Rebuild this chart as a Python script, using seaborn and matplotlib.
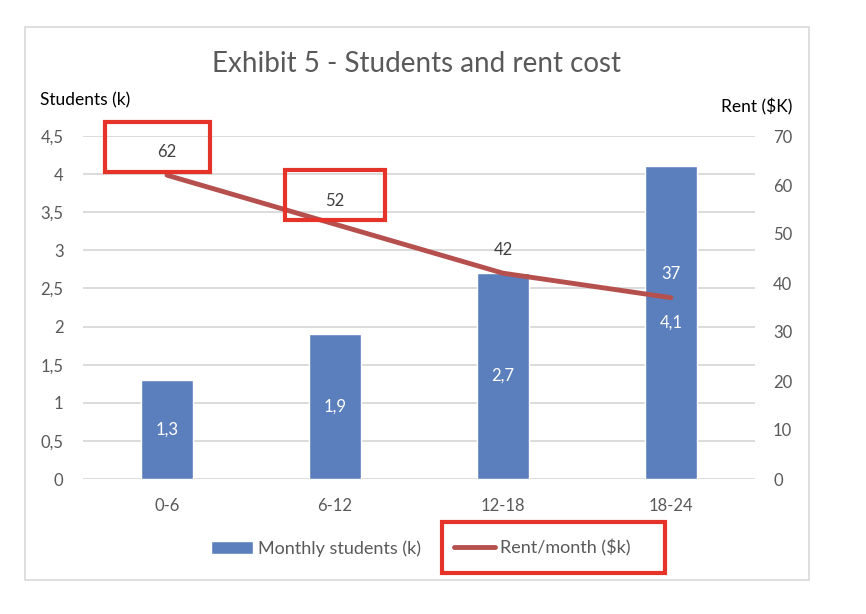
import matplotlib.pyplot as plt
import pandas as pd
import seaborn as sns
from matplotlib.patches import Rectangle
from matplotlib.ticker import FuncFormatter, MultipleLocator

# data
periods = ['0-6', '6-12', '12-18', '18-24']
students = [1.3, 1.9, 2.7, 4.1]
rent = [62, 52, 42, 37]

df = pd.DataFrame({'period': periods, 'students': students, 'rent': rent})

BAR = '#5B7FBD'
LINE = '#B5504E'
RED = '#E63329'
GRID = '#D9D9D9'
TXT = '#595959'

sns.set_theme(style='white')
plt.rcParams['font.family'] = ['Lato', 'DejaVu Sans']

W, H = 866, 614
fig = plt.figure(figsize=(W / 100, H / 100), dpi=100)


def fx(px):
    return px / W


def fy(py):
    return 1 - py / H


ax = fig.add_axes([fx(83), fy(479), fx(755 - 83), (479 - 136) / H])
sns.barplot(data=df, x='period', y='students', color=BAR, saturation=1,
            width=0.31, ax=ax)
ax2 = ax.twinx()
sns.lineplot(data=df, x='period', y='rent', color=LINE, lw=3.5, ax=ax2, legend=False)

ax.set_ylim(0, 4.5)
ax2.set_ylim(0, 70)
ax.set_xlim(-0.5, len(periods) - 0.5)
ax.yaxis.set_major_locator(MultipleLocator(0.5))
ax2.yaxis.set_major_locator(MultipleLocator(10))
ax.yaxis.set_major_formatter(FuncFormatter(lambda v, p: f'{v:g}'.replace('.', ',')))

ax.yaxis.grid(True, color=GRID, lw=1.3)
ax.set_axisbelow(True)
for a in (ax, ax2):
    for s in a.spines.values():
        s.set_visible(False)
    a.set_xlabel('')
    a.set_ylabel('')
ax.tick_params(axis='y', length=0, pad=14, labelsize=12, labelcolor=TXT)
ax.tick_params(axis='x', length=0, pad=14, labelsize=12, labelcolor=TXT)
ax2.tick_params(axis='y', length=0, pad=13, labelsize=12, labelcolor=TXT)

# data labels
ax.bar_label(ax.containers[0], labels=[f'{v:.1f}'.replace('.', ',') for v in students],
             label_type='center', color='white', fontsize=12)
for i, v in enumerate(rent):
    # a label that lands on top of a bar is drawn white
    on_bar = v + 5 < students[i] * 70 / 4.5
    ax2.annotate(str(v), (i, v), xytext=(0, 17), textcoords='offset points',
                 ha='center', va='center', fontsize=12,
                 color='white' if on_bar else '#404040')

# titles
fig.text(fx(416), fy(64), 'Exhibit 5 - Students and rent cost', ha='center', va='center',
         fontsize=20, color=TXT)
fig.text(fx(40), fy(100), 'Students (k)', ha='left', va='center', fontsize=12.5, color='black')
fig.text(fx(792), fy(107), 'Rent ($K)', ha='right', va='center', fontsize=12.5, color='black')

# legend
handles = ax.containers[0].patches[:1] + ax2.get_lines()[:1]
leg = fig.legend(handles, ['Monthly students (k)', 'Rent/month ($k)'], ncol=2, frameon=False,
                 loc='center', bbox_to_anchor=(fx(421), fy(548)), fontsize=13,
                 handlelength=2.3, columnspacing=1.8, handletextpad=0.3)
for t in leg.get_texts():
    t.set_color(TXT)

# chart border and red highlight boxes
fig.add_artist(Rectangle((fx(25), fy(580)), fx(809 - 25), (580 - 27) / H,
                         transform=fig.transFigure, fill=False, ec=GRID, lw=1.2))
for x0, y0, x1, y1 in [(105, 122, 210, 172), (285, 170, 385, 220), (442, 522, 665, 573)]:
    fig.add_artist(Rectangle((fx(x0), fy(y1)), fx(x1 - x0), (y1 - y0) / H,
                             transform=fig.transFigure, fill=False, ec=RED, lw=3))

fig.savefig('out.png', dpi=100, facecolor='white')
